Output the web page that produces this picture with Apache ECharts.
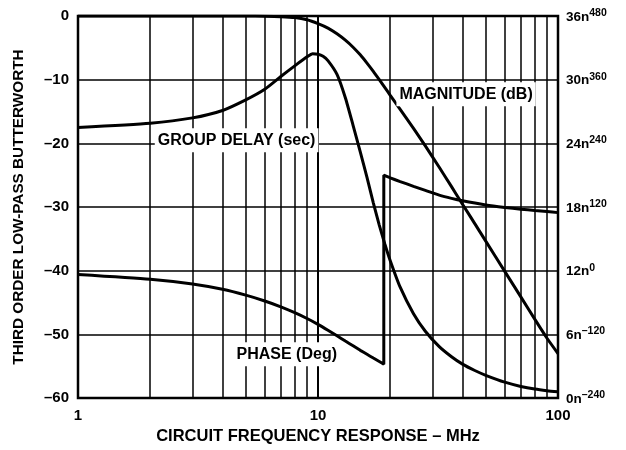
<!DOCTYPE html>
<html>
<head>
<meta charset="utf-8">
<script src="https://cdn.jsdelivr.net/npm/echarts@6/dist/echarts.min.js"></script>
<style>html,body{margin:0;padding:0;background:#fff}#c{width:626px;height:450px}</style>
</head>
<body>
<div id="c"></div>
<script>
// Magnitude (dB) vs frequency (MHz)
const magFreq = [1, 2, 3, 4, 5, 6, 7, 8, 9, 10, 11, 12, 13, 14, 15, 16, 17, 18, 19, 20, 22, 25, 28, 32, 36, 40, 45, 50, 60, 70, 80, 90, 100];
const magDb   = [0, 0, 0, 0, 0, -0.03, -0.1, -0.25, -0.6, -1.2, -1.9, -2.8, -3.8, -4.9, -6.1, -7.4, -8.7, -10.0, -11.25, -12.45, -14.65, -17.65, -20.4, -23.75, -26.8, -29.55, -32.6, -35.35, -40.1, -44.1, -47.6, -50.6, -53.0];
// Group delay (ns)
const gdFreq = [1, 2, 3, 4, 5, 6, 7, 8, 9, 9.5, 10, 10.5, 11, 12, 13, 14, 15, 16, 17, 18, 19, 20, 22, 25, 28, 32, 36, 40, 45, 50, 60, 70, 80, 90, 100];
const gdNs   = [25.5, 25.9, 26.4, 27.1, 28.1, 29.1, 30.3, 31.3, 32.15, 32.45, 32.4, 32.2, 31.8, 30.5, 28.3, 25.7, 23.2, 20.8, 18.4, 16.3, 14.5, 12.95, 10.45, 7.95, 6.3, 4.85, 3.9, 3.2, 2.6, 2.15, 1.5, 1.1, 0.85, 0.7, 0.6];
// Phase (deg), wrapping from -180 to +180 near 18.8 MHz
const phFreq = [1, 2, 3, 4, 5, 6, 7, 8, 9, 10, 11, 12, 13, 14, 15, 16, 17, 18, 18.8, 18.8, 20, 22, 25, 28, 32, 36, 40, 50, 60, 70, 80, 90, 100];
const phDeg  = [-7, -16, -25, -35, -46, -57, -68, -79, -90, -101, -112, -122.5, -132.5, -141.5, -150, -157.5, -164.5, -171, -176, 180, 175, 168, 159.1, 151.5, 142.5, 136.3, 131.7, 124, 119.3, 116, 113.5, 111.4, 109.5];
// Tick labels
const rightNs = [36, 30, 24, 18, 12, 6, 0];
const rightDeg = ['480', '360', '240', '120', '0', '–120', '–240'];
const minorFreqs = [2, 3, 4, 5, 6, 7, 8, 9, 20, 30, 40, 50, 60, 70, 80, 90];

const zip = (a, b) => a.map((v, i) => [v, b[i]]);
const FONT = '"Liberation Sans", Arial, Helvetica, sans-serif';
const lbl = (text) => ({
  show: true, position: 'inside', formatter: text, color: '#000',
  fontFamily: FONT, fontWeight: 'bold', fontSize: 16, lineHeight: 18,
  backgroundColor: '#fff', padding: [3, 3, 3, 3]
});
const mp = (coord, text) => ({
  silent: true, symbol: 'rect', symbolSize: 1, itemStyle: { color: 'rgba(0,0,0,0)' },
  label: lbl(text), data: [{ coord: coord }], z: 10
});

const chart = echarts.init(document.getElementById('c'), null, { renderer: 'canvas' });
chart.setOption({
  animation: false,
  backgroundColor: '#fff',
  grid: { left: 78, right: 68, top: 16, bottom: 50, show: true, borderColor: '#000', borderWidth: 2.5, backgroundColor: '#fff' },
  xAxis: {
    type: 'log', logBase: 10, min: 1, max: 100,
    name: 'CIRCUIT FREQUENCY RESPONSE – MHz', nameLocation: 'middle', nameGap: 28,
    nameTextStyle: { fontFamily: FONT, fontWeight: 'bold', fontSize: 16.5, color: '#000' },
    axisLine: { show: false }, axisTick: { show: false },
    axisLabel: { margin: 10, fontFamily: FONT, fontWeight: 'bold', fontSize: 15, color: '#000' },
    splitLine: { show: true, lineStyle: { color: '#000', width: 2 } }
  },
  yAxis: [
    {
      type: 'value', min: -60, max: 0, interval: 10, position: 'left',
      name: 'THIRD ORDER LOW-PASS BUTTERWORTH', nameLocation: 'middle', nameGap: 52,
      nameTextStyle: { fontFamily: FONT, fontWeight: 'bold', fontSize: 15.3, color: '#000' },
      axisLine: { show: false }, axisTick: { show: false },
      axisLabel: { margin: 9, fontFamily: FONT, fontWeight: 'bold', fontSize: 15, color: '#000',
        formatter: v => v < 0 ? '–' + (-v) : String(v) },
      splitLine: { show: true, lineStyle: { color: '#000', width: 1.5 } }
    },
    {
      type: 'value', min: 0, max: 36, interval: 6, position: 'right',
      axisLine: { show: false }, axisTick: { show: false }, splitLine: { show: false },
      axisLabel: {
        margin: 8,
        formatter: v => { const i = rightNs.indexOf(v); return '{a|' + v + 'n}{b|' + rightDeg[i] + '}'; },
        rich: {
          a: { fontFamily: FONT, fontWeight: 'bold', fontSize: 13.5, color: '#000', lineHeight: 20, padding: [2, 0, 0, 0] },
          b: { fontFamily: FONT, fontWeight: 'bold', fontSize: 10.5, color: '#000', padding: [0, 0, 6, 0] }
        }
      }
    },
    { type: 'value', min: -240, max: 480, show: false }
  ],
  series: [
    {
      name: 'grid', type: 'line', data: [], z: 1, silent: true,
      markLine: {
        silent: true, symbol: 'none', label: { show: false },
        lineStyle: { color: '#000', width: 1.5, type: 'solid' },
        data: minorFreqs.map(f => ({ xAxis: f }))
      }
    },
    {
      name: 'MAGNITUDE (dB)', type: 'line', yAxisIndex: 0, data: zip(magFreq, magDb),
      showSymbol: false, smooth: 0.2, z: 3,
      lineStyle: { color: '#000', width: 3 },
      markPoint: mp([41.4, -12.3], 'MAGNITUDE (dB)')
    },
    {
      name: 'GROUP DELAY (sec)', type: 'line', yAxisIndex: 1, data: zip(gdFreq, gdNs),
      showSymbol: false, smooth: 0.2, z: 3,
      lineStyle: { color: '#000', width: 3 },
      markPoint: mp([4.58, 24.3], 'GROUP DELAY (sec)')
    },
    {
      name: 'PHASE (Deg)', type: 'line', yAxisIndex: 2, data: zip(phFreq, phDeg),
      showSymbol: false, smooth: 0.2, z: 3,
      lineStyle: { color: '#000', width: 3 },
      markPoint: mp([7.41, -157.5], 'PHASE (Deg)')
    }
  ]
});
</script>
</body>
</html>
